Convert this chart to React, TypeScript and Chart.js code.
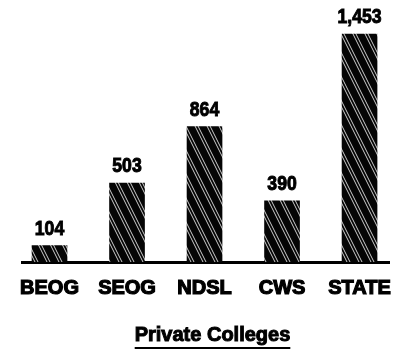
import React, { useEffect, useRef } from 'react';
import { Chart, registerables } from 'chart.js';

Chart.register(...registerables);

const categories = ['BEOG', 'SEOG', 'NDSL', 'CWS', 'STATE'];
const amounts = [104, 503, 864, 390, 1453];
const chartTitle = 'Private Colleges';

const FONT = '"Liberation Sans", Arial, sans-serif';
const TITLE_SIZE = 20;
const TITLE_PAD_TOP = 9;

function makeHatch(): CanvasPattern | string {
  const tile = document.createElement('canvas');
  tile.width = 12;
  tile.height = 24;
  const c = tile.getContext('2d');
  if (!c) return '#000';
  c.fillStyle = '#050505';
  c.fillRect(0, 0, 12, 24);
  c.strokeStyle = 'rgba(255,255,255,0.8)';
  c.lineWidth = 1;
  for (const off of [-12, 0, 12]) {
    for (const d of [0, 3]) {
      c.beginPath();
      c.moveTo(off + d, 0);
      c.lineTo(off + d + 12, 24);
      c.stroke();
    }
  }
  const p = c.createPattern(tile, 'repeat');
  return p || '#000';
}

const valueLabels = {
  id: 'valueLabels',
  afterDatasetsDraw(chart: any) {
    const ctx = chart.ctx;
    const meta = chart.getDatasetMeta(0);
    ctx.save();
    ctx.fillStyle = '#000';
    ctx.strokeStyle = '#000';
    ctx.lineWidth = 1;
    ctx.font = 'bold 21px ' + FONT;
    ctx.textAlign = 'center';
    ctx.textBaseline = 'bottom';
    meta.data.forEach((bar: any, i: number) => {
      const txt = amounts[i].toLocaleString('en-US');
      ctx.save();
      ctx.translate(bar.x, bar.y - 6);
      ctx.scale(0.84, 1);
      ctx.fillText(txt, 0, 0);
      ctx.strokeText(txt, 0, 0);
      ctx.restore();
    });
    ctx.restore();
  },
};

const titleUnderline = {
  id: 'titleUnderline',
  afterDraw(chart: any) {
    const tb = chart.titleBlock;
    if (!tb) return;
    const ctx = chart.ctx;
    ctx.save();
    ctx.font = 'bold ' + TITLE_SIZE + 'px ' + FONT;
    const w = ctx.measureText(chartTitle).width;
    const cx = (tb.left + tb.right) / 2;
    const cy = tb.top + TITLE_PAD_TOP + (TITLE_SIZE * 1.2) / 2;
    ctx.strokeStyle = '#000';
    ctx.lineWidth = 1;
    ctx.textAlign = 'center';
    ctx.textBaseline = 'middle';
    ctx.strokeText(chartTitle, cx, cy);
    ctx.fillStyle = '#000';
    ctx.fillRect(cx - w / 2, tb.bottom - 3, w, 2);
    ctx.restore();
  },
};

export default function App() {
  const ref = useRef<HTMLCanvasElement>(null);

  useEffect(() => {
    if (!ref.current) return;
    const hatch = makeHatch();
    const chart = new Chart(ref.current, {
      type: 'bar',
      data: {
        datasets: [
          {
            data: categories.map((_, i) => ({ x: i, y: amounts[i] })),
            backgroundColor: hatch as any,
            borderWidth: 0,
            barThickness: 35,
          },
        ],
      },
      options: {
        animation: false,
        responsive: false,
        devicePixelRatio: 1,
        layout: { padding: { left: 22, right: 2, top: 11, bottom: 0 } },
        plugins: {
          legend: { display: false },
          tooltip: { enabled: false },
          title: {
            display: true,
            position: 'bottom',
            text: chartTitle,
            color: '#000',
            font: { family: FONT, size: TITLE_SIZE, weight: 'bold' },
            padding: { top: TITLE_PAD_TOP, bottom: 3 },
          },
        },
        scales: {
          x: {
            type: 'linear',
            offset: false,
            min: -0.355,
            max: 4.39,
            afterBuildTicks: (scale: any) => {
              scale.ticks = categories.map((_, i) => ({ value: i }));
            },
            ticks: {
              color: '#000',
              padding: 14,
              maxRotation: 0,
              autoSkip: false,
              textStrokeColor: '#000',
              textStrokeWidth: 1.2,
              font: { family: FONT, size: 20, weight: 'bold' },
              callback: (v: any) => categories[Math.round(Number(v))] ?? '',
            },
            grid: { display: true, drawOnChartArea: false, drawTicks: false, color: 'transparent' },
            border: { display: true, color: '#000', width: 3 },
          },
          y: {
            display: false,
            min: 0,
            max: 1600,
          },
        },
      },
      plugins: [valueLabels, titleUnderline],
    });
    return () => chart.destroy();
  }, []);

  return (
    <div style={{ position: 'fixed', left: 0, top: 0, width: 405, height: 350, background: '#fff' }}>
      <canvas ref={ref} width={405} height={350} />
    </div>
  );
}
